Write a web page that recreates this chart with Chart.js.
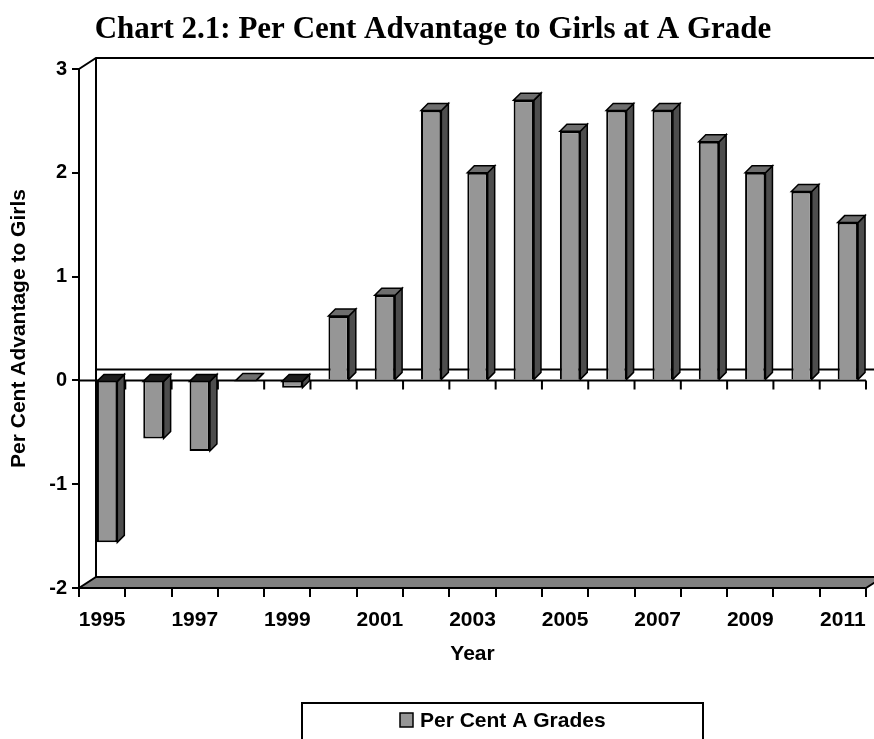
<!DOCTYPE html>
<html>
<head>
<meta charset="utf-8">
<script src="https://cdn.jsdelivr.net/npm/chart.js@4.4.1/dist/chart.umd.min.js"></script>
<style>
  html, body { margin: 0; padding: 0; background: #fff; }
  #wrap { width: 874px; height: 739px; }
</style>
</head>
<body>
<div id="wrap"><canvas id="chart" width="874" height="739"></canvas></div>
<script>
// data
const years = ['1995', '1996', '1997', '1998', '1999', '2000', '2001', '2002', '2003',
  '2004', '2005', '2006', '2007', '2008', '2009', '2010', '2011'];
const shownYears = ['1995', '1997', '1999', '2001', '2003', '2005', '2007', '2009', '2011'];
const aGrades = [-1.56, -0.56, -0.68, 0, -0.07, 0.62, 0.82, 2.6, 2.0, 2.7, 2.4, 2.6, 2.6, 2.3, 2.0, 1.82, 1.52];
const yTicks = [-2, -1, 0, 1, 2, 3];
const seriesName = 'Per Cent A Grades';

const SANS = '"Liberation Sans", Arial, sans-serif';
const SERIF = '"Liberation Serif", "Times New Roman", serif';

// fake 3d: wall depth and bar depth (px)
const WALL_DX = 17, WALL_DY = 11;
const BAR_D = 7, BAR_SHIFT = 5;

const box3d = {
  id: 'box3d',
  beforeDatasetsDraw(chart) {
    const { ctx, chartArea: a, scales: { y } } = chart;
    const y0 = y.getPixelForValue(0);
    const n = chart.data.labels.length;
    const step = (a.right - a.left) / n;
    ctx.save();
    ctx.strokeStyle = '#000';
    ctx.lineWidth = 2;
    // back wall
    ctx.beginPath();
    ctx.moveTo(a.left, a.top);
    ctx.lineTo(a.left + WALL_DX, a.top - WALL_DY);
    ctx.lineTo(a.right + WALL_DX, a.top - WALL_DY);
    ctx.moveTo(a.left + WALL_DX, a.top - WALL_DY);
    ctx.lineTo(a.left + WALL_DX, a.bottom - WALL_DY);
    ctx.stroke();
    // floor
    ctx.beginPath();
    ctx.moveTo(a.left, a.bottom);
    ctx.lineTo(a.left + WALL_DX, a.bottom - WALL_DY);
    ctx.lineTo(a.right + WALL_DX, a.bottom - WALL_DY);
    ctx.lineTo(a.right, a.bottom);
    ctx.closePath();
    ctx.fillStyle = '#808080';
    ctx.fill();
    ctx.stroke();
    // zero plane + ticks
    ctx.beginPath();
    ctx.moveTo(a.left + WALL_DX, y0 - WALL_DY);
    ctx.lineTo(a.right + WALL_DX, y0 - WALL_DY);
    ctx.moveTo(a.left, y0);
    ctx.lineTo(a.right, y0);
    for (let i = 0; i <= n; i++) {
      const px = a.left + i * step;
      ctx.moveTo(px, y0);
      ctx.lineTo(px, y0 + 9);
    }
    ctx.stroke();
    ctx.restore();
    ctx.save();
    ctx.translate(BAR_SHIFT, 0);
  },
  afterDatasetsDraw(chart) {
    const ctx = chart.ctx;
    const meta = chart.getDatasetMeta(0);
    ctx.strokeStyle = '#000';
    ctx.lineWidth = 1.5;
    meta.data.forEach((bar, i) => {
      const { x, y, base, width } = bar.getProps(['x', 'y', 'base', 'width'], true);
      const L = x - width / 2, R = x + width / 2;
      const T = Math.min(y, base), B = Math.max(y, base);
      // side
      ctx.beginPath();
      ctx.moveTo(R, T);
      ctx.lineTo(R + BAR_D, T - BAR_D);
      ctx.lineTo(R + BAR_D, B - BAR_D);
      ctx.lineTo(R, B);
      ctx.closePath();
      ctx.fillStyle = '#4d4d4d';
      ctx.fill();
      ctx.stroke();
      // top
      ctx.beginPath();
      ctx.moveTo(L, T);
      ctx.lineTo(L + BAR_D, T - BAR_D);
      ctx.lineTo(R + BAR_D, T - BAR_D);
      ctx.lineTo(R, T);
      ctx.closePath();
      ctx.fillStyle = chart.data.datasets[0].data[i] < 0 ? '#1e1e1e' : '#6e6e6e';
      ctx.fill();
      ctx.stroke();
    });
    ctx.restore();
  }
};

const legendBox = {
  id: 'legendBox',
  afterDraw(chart) {
    const ctx = chart.ctx;
    const ds = chart.data.datasets[0];
    ctx.save();
    ctx.strokeStyle = '#000';
    ctx.lineWidth = 2;
    ctx.strokeRect(302, 703, 401, 60);
    ctx.font = 'bold 21px ' + SANS;
    ctx.textBaseline = 'middle';
    ctx.fillStyle = ds.backgroundColor;
    ctx.fillRect(400, 713, 13, 14);
    ctx.lineWidth = 1.5;
    ctx.strokeRect(400, 713, 13, 14);
    ctx.fillStyle = '#000';
    ctx.fillText(ds.label, 420, 721);
    ctx.restore();
  }
};

Chart.defaults.font.family = SANS;
Chart.defaults.color = '#000';

new Chart(document.getElementById('chart'), {
  type: 'bar',
  data: {
    labels: years,
    datasets: [{
      label: seriesName,
      data: aGrades,
      backgroundColor: '#969696',
      borderColor: '#000',
      borderWidth: 2,
      barPercentage: 0.44,
      categoryPercentage: 1
    }]
  },
  options: {
    responsive: false,
    animation: false,
    layout: { padding: { left: 0, right: 8, top: 0, bottom: 0 } },
    plugins: {
      legend: { display: false },
      tooltip: { enabled: false },
      title: {
        display: true,
        text: 'Chart 2.1: Per Cent Advantage to Girls at A Grade',
        font: { family: SERIF, size: 31, weight: 'bold' },
        padding: { top: 11, bottom: 20.8 }
      }
    },
    scales: {
      x: {
        grid: { display: true, drawOnChartArea: false, drawTicks: true, tickLength: 9, color: '#000', lineWidth: 2, offset: true },
        border: { display: true, color: '#000', width: 2 },
        ticks: {
          autoSkip: false, maxRotation: 0, padding: 11,
          font: { size: 21, weight: 'bold' },
          callback: function (v) {
            const l = this.getLabelForValue(v);
            return shownYears.includes(l) ? l : '';
          }
        },
        title: { display: true, text: 'Year', font: { size: 21, weight: 'bold' }, padding: { top: 0, bottom: 72 } },
        afterFit: s => { s.height = 151; s.paddingLeft = 0; s.paddingRight = 0; }
      },
      y: {
        min: -2,
        max: 3,
        afterBuildTicks: s => { s.ticks = yTicks.map(v => ({ value: v })); },
        grid: { drawOnChartArea: false, tickLength: 7, color: '#000', lineWidth: 2 },
        border: { display: true, color: '#000', width: 2 },
        ticks: { padding: 5, font: { size: 20, weight: 'bold' } },
        title: { display: true, text: 'Per Cent Advantage to Girls', font: { size: 21, weight: 'bold' }, padding: { top: 7 } },
        afterFit: s => { s.width = 79; }
      }
    }
  },
  plugins: [box3d, legendBox]
});
</script>
</body>
</html>
